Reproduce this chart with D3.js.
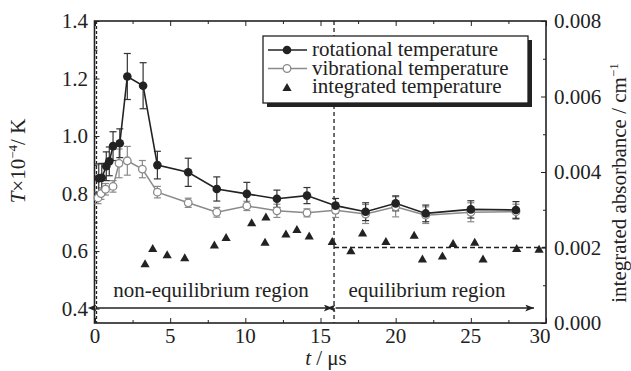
<!DOCTYPE html>
<html><head><meta charset="utf-8">
<script src="https://cdn.jsdelivr.net/npm/d3@7"></script>
</head>
<body style="margin:0">
<svg id="c" width="631" height="371"></svg>
<script>
// ---- data ----
const rotT = [0.25,0.45,0.75,0.95,1.2,1.65,2.15,3.2,4.15,6.2,8.1,10.1,12.1,14.1,16,18,20,22,25,28];
const rotV = [0.853,0.855,0.895,0.912,0.965,0.975,1.207,1.175,0.899,0.874,0.816,0.799,0.782,0.793,0.758,0.737,0.766,0.731,0.745,0.743];
const rotE = [0.05,0.05,0.05,0.05,0.05,0.05,0.08,0.08,0.048,0.049,0.042,0.04,0.03,0.028,0.025,0.031,0.026,0.029,0.03,0.029];
const vibT = [0.2,0.4,0.7,1.2,1.6,2.15,3.15,4.15,6.2,8.1,10.1,12.1,14.1,16,18,20,22,25,28];
const vibV = [0.785,0.80,0.815,0.825,0.905,0.914,0.885,0.805,0.768,0.735,0.757,0.740,0.733,0.742,0.729,0.754,0.725,0.735,0.737];
const vibE = [0.02,0.02,0.02,0.02,0.05,0.05,0.03,0.02,0.016,0.017,0.016,0.023,0.014,0.025,0.033,0.035,0.029,0.033,0.026];
const triT = [3.33,3.84,4.8,5.97,7.94,8.72,10.42,11.31,11.37,12.7,13.43,14.25,15.78,17.02,17.8,19.35,21.23,21.78,23.11,23.82,25.26,25.81,28.05,29.54];
const triA = [0.00158,0.00199,0.00182,0.00174,0.00208,0.00228,0.00267,0.00215,0.00282,0.00237,0.00249,0.00232,0.00217,0.00193,0.0024,0.00217,0.00234,0.00171,0.00179,0.00212,0.00215,0.00171,0.00199,0.00197];
const xTicks = [0,5,10,15,20,25,30];
const yLTicks = [0.4,0.6,0.8,1.0,1.2,1.4];
const yRTicks = [0,0.002,0.004,0.006,0.008];
const legendLabels = ["rotational temperature","vibrational temperature","integrated temperature"];
const regionLabels = ["non-equilibrium region","equilibrium region"];
const eqStart = 15.9, eqLevel = 0.002, startLine = 0.1;

// ---- layout ----
const svg = d3.select("#c");
const L=94.5, R=546, T=21, B=323;
const x = d3.scaleLinear([0,30],[95,546]);
const yL = d3.scaleLinear([0.35,1.4],[B,T]);
const yR = d3.scaleLinear([0,0.008],[B,T]);
const ink="#222", grey="#8a8a8a";
const FS = 21;
const fam = ["Liberation","Serif"].join(" ");
const SERIF = `"${fam}", "Times New Roman", serif`;
function txt(parent){
  const t = parent.append("text").attr("font-size",FS).attr("fill",ink);
  t.node().style.setProperty("font-family", SERIF, "important");
  return t;
}

const defs = svg.append("defs");
["s","e"].forEach(k=>{
  defs.append("marker").attr("id","ar"+k).attr("viewBox","0 0 10 8").attr("refX",k=="e"?10:0).attr("refY",4)
   .attr("markerWidth",10).attr("markerHeight",7).attr("markerUnits","userSpaceOnUse").attr("orient","auto-start-reverse")
   .append("path").attr("d","M0,0L10,4L0,8L2.5,4Z").attr("fill",ink);
});

function axisTicks(g, axis){ g.call(axis); g.select(".domain").remove(); g.selectAll("line").attr("stroke",ink); g.selectAll("text").remove(); }
const minorX = d3.range(0,30.01,2.5);
svg.append("g").attr("transform",`translate(0,${B})`).call(g=>axisTicks(g,d3.axisBottom(x).tickValues(minorX)))
  .selectAll("line").attr("y2",(d)=> d%5===0?-5:-3);
svg.append("g").attr("transform",`translate(0,${T})`).call(g=>axisTicks(g,d3.axisTop(x).tickValues(minorX)))
  .selectAll("line").attr("y2",(d)=> d%5===0?5:3);
const minorYL = d3.range(0.4,1.41,0.1).map(v=>+v.toFixed(2));
svg.append("g").attr("transform",`translate(${L},0)`).call(g=>axisTicks(g,d3.axisLeft(yL).tickValues(minorYL)))
  .selectAll("line").attr("x2",(d)=> Math.round(d*10)%2===0?5:3);
const minorYR = d3.range(0,0.00801,0.001).map(v=>+v.toFixed(4));
svg.append("g").attr("transform",`translate(${R},0)`).call(g=>axisTicks(g,d3.axisRight(yR).tickValues(minorYR)))
  .selectAll("line").attr("x2",(d)=> Math.round(d*1000)%2===0?-5:-3);

svg.append("rect").attr("x",L).attr("y",T).attr("width",R-L).attr("height",B-T).attr("fill","none").attr("stroke",ink).attr("stroke-width",1.6);

const tl = svg.append("g");
xTicks.forEach(d=> txt(tl).attr("x",x(d)+(d===30?-6:0)).attr("y",343).attr("text-anchor","middle").text(d));
yLTicks.forEach(d=> txt(tl).attr("x",88).attr("y",yL(d)+7).attr("text-anchor","end").text(d.toFixed(1)));
yRTicks.forEach(d=> txt(tl).attr("x",554).attr("y",yR(d)+7).attr("text-anchor","start").text(d.toFixed(3)));

const xt = txt(svg).attr("x",326).attr("y",365).attr("text-anchor","middle");
xt.append("tspan").attr("font-style","italic").text("t");
xt.append("tspan").text(" / μs");
const ylt = txt(svg).attr("transform","translate(25,161) rotate(-90)").attr("text-anchor","middle");
ylt.append("tspan").attr("font-style","italic").text("T");
ylt.append("tspan").text("×10");
ylt.append("tspan").attr("font-size",13).attr("dy",-8).text("−4");
ylt.append("tspan").attr("dy",8).text("/ K");
const yrt = txt(svg).attr("transform","translate(626,183) rotate(-90)").attr("text-anchor","middle");
yrt.append("tspan").text("integrated absorbance / cm");
yrt.append("tspan").attr("font-size",13).attr("dy",-8).text("−1");

svg.append("line").attr("x1",x(startLine)).attr("x2",x(startLine)).attr("y1",T).attr("y2",B).attr("stroke",ink).attr("stroke-dasharray","3,2").attr("stroke-width",1.3);
svg.append("line").attr("x1",x(eqStart)).attr("x2",x(eqStart)).attr("y1",T).attr("y2",B).attr("stroke",ink).attr("stroke-dasharray","4,3").attr("stroke-width",1.3);
svg.append("line").attr("x1",x(eqStart)).attr("x2",R).attr("y1",yR(eqLevel)).attr("y2",yR(eqLevel)).attr("stroke",ink).attr("stroke-dasharray","5,3").attr("stroke-width",1.3);

const ay = 308;
svg.append("line").attr("x1",x(startLine)).attr("x2",x(eqStart)-1.5).attr("y1",ay).attr("y2",ay).attr("stroke",ink).attr("stroke-width",1.3)
  .attr("marker-start","url(#ars)").attr("marker-end","url(#are)");
svg.append("line").attr("x1",x(eqStart)+1.5).attr("x2",x(29.2)).attr("y1",ay).attr("y2",ay).attr("stroke",ink).attr("stroke-width",1.3)
  .attr("marker-start","url(#ars)").attr("marker-end","url(#are)");
txt(svg).attr("x",211).attr("y",297).attr("text-anchor","middle").text(regionLabels[0]);
txt(svg).attr("x",427).attr("y",297).attr("text-anchor","middle").text(regionLabels[1]);

const rot = rotT.map((t,i)=>({t,v:rotV[i],e:rotE[i]}));
const vib = vibT.map((t,i)=>({t,v:vibV[i],e:vibE[i]}));
const tri = triT.map((t,i)=>({t,a:triA[i]}));
function errbars(data,color){
  const g = svg.append("g").attr("stroke",color).attr("stroke-width",1.2);
  data.forEach(d=>{
    const x0=x(d.t), y1=yL(d.v+d.e), y2=yL(d.v-d.e);
    g.append("line").attr("x1",x0).attr("x2",x0).attr("y1",y1).attr("y2",y2);
    g.append("line").attr("x1",x0-3.5).attr("x2",x0+3.5).attr("y1",y1).attr("y2",y1);
    g.append("line").attr("x1",x0-3.5).attr("x2",x0+3.5).attr("y1",y2).attr("y2",y2);
  });
}
errbars(vib,grey);
errbars(rot,"#333");
const line = d3.line().x(d=>x(d.t)).y(d=>yL(d.v));
svg.append("path").datum(vib).attr("d",line).attr("fill","none").attr("stroke",grey).attr("stroke-width",1.5);
svg.append("path").datum(rot).attr("d",line).attr("fill","none").attr("stroke",ink).attr("stroke-width",1.6);
svg.append("g").selectAll("circle").data(vib).join("circle").attr("cx",d=>x(d.t)).attr("cy",d=>yL(d.v)).attr("r",3.8)
  .attr("fill","#fff").attr("stroke",grey).attr("stroke-width",1.3);
svg.append("g").selectAll("circle").data(rot).join("circle").attr("cx",d=>x(d.t)).attr("cy",d=>yL(d.v)).attr("r",4.3).attr("fill",ink);
const triPath = "M0,-4L4.6,4L-4.6,4Z";
svg.append("g").selectAll("path").data(tri).join("path").attr("transform",d=>`translate(${x(d.t)},${yR(d.a)})`).attr("d",triPath).attr("fill",ink);

const lg = svg.append("g");
lg.append("rect").attr("x",267).attr("y",40).attr("width",265).attr("height",67).attr("fill",ink);
lg.append("rect").attr("x",263).attr("y",36).attr("width",265).attr("height",67).attr("fill","#fff").attr("stroke",ink).attr("stroke-width",1.3);
const rows=[50,68.5,87];
lg.append("line").attr("x1",268).attr("x2",307).attr("y1",rows[0]).attr("y2",rows[0]).attr("stroke",ink).attr("stroke-width",1.5);
lg.append("circle").attr("cx",287).attr("cy",rows[0]).attr("r",4.3).attr("fill",ink);
lg.append("line").attr("x1",268).attr("x2",307).attr("y1",rows[1]).attr("y2",rows[1]).attr("stroke",grey).attr("stroke-width",1.5);
lg.append("circle").attr("cx",287).attr("cy",rows[1]).attr("r",3.8).attr("fill","#fff").attr("stroke",grey).attr("stroke-width",1.3);
lg.append("path").attr("transform",`translate(287,${rows[2]})`).attr("d",triPath).attr("fill",ink);
legendLabels.forEach((d,i)=> txt(lg).attr("x",312).attr("y",rows[i]+6).text(d));
</script></body></html>
